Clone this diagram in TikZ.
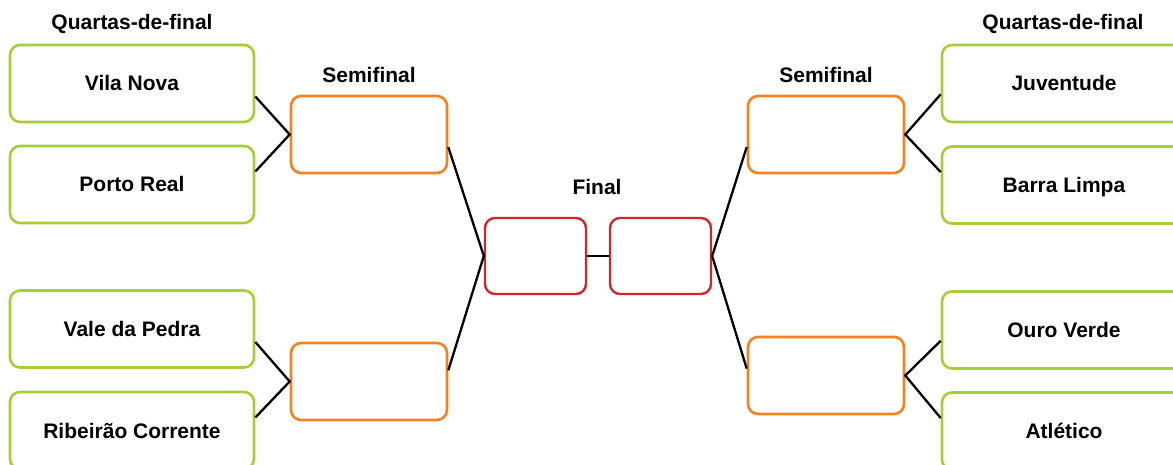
\documentclass[tikz,border=0pt]{standalone}
\usepackage{fontspec}
\setmainfont{Liberation Sans}

\begin{document}
\begin{tikzpicture}[x=1pt,y=-1pt,
	font=\fontsize{21}{24}\selectfont\bfseries,
	box/.style={draw,rounded corners=10pt,line width=2.6pt,inner sep=0pt,text height=15pt,text depth=0pt},
	qf/.style={box,draw=qfgreen,minimum width=244pt,minimum height=77pt},
	sf/.style={box,draw=sforange,minimum width=156pt,minimum height=77pt},
	fn/.style={box,draw=fnred,line width=2.4pt,minimum width=101pt,minimum height=76pt},
	lbl/.style={anchor=base},
	link/.style={line width=2.3pt}]
		\definecolor{qfgreen}{RGB}{166,206,57}
		\definecolor{sforange}{RGB}{245,130,32}
		\definecolor{fnred}{RGB}{204,38,48}
		\useasboundingbox (0,0) rectangle (1173,465);
		
		\node[lbl] (qfl) at (132,30) {Quartas-de-final};
		\node[lbl] (qfr) at (1063,30) {Quartas-de-final};
		\node[lbl] (sfl) at (369,83) {Semifinal};
		\node[lbl] (sfr) at (826,83) {Semifinal};
		\node[lbl] (fnl) at (597,195) {Final};
		
		\node[qf] (vn) at (132,83.5) {Vila Nova};
		\node[qf] (pr) at (132,184.5) {Porto Real};
		\node[qf] (vp) at (132,329) {Vale da Pedra};
		\node[qf] (rc) at (132,430.5) {Ribeirão Corrente};
		\node[qf] (ju) at (1064,83.5) {Juventude};
		\node[qf] (bl) at (1064,185) {Barra Limpa};
		\node[qf] (ov) at (1064,330) {Ouro Verde};
		\node[qf] (at) at (1064,431) {Atlético};
		
		\node[sf] (sfa) at (369,134.5) {};
		\node[sf] (sfb) at (369,381.5) {};
		\node[sf] (sfc) at (826,134.5) {};
		\node[sf] (sfd) at (826,375.5) {};
		
		\node[fn] (fa) at (535.5,256) {};
		\node[fn] (fb) at (660.5,256) {};
		
		\draw[link] (vn.-6) -- (sfa.west) -- (pr.6);
		\draw[link] (vp.-6) -- (sfb.west) -- (rc.6);
		\draw[link] (ju.185) -- (sfc.east) -- (bl.174);
		\draw[link] (ov.185) -- (sfd.east) -- (at.174);
		\draw[link] (sfa.-9) -- (fa.west) -- (sfb.8);
		\draw[link] (sfc.-171) -- (fb.east) -- (sfd.175);
		\draw[link] (fa.east) -- (fb.west);
\end{tikzpicture}
\end{document}
